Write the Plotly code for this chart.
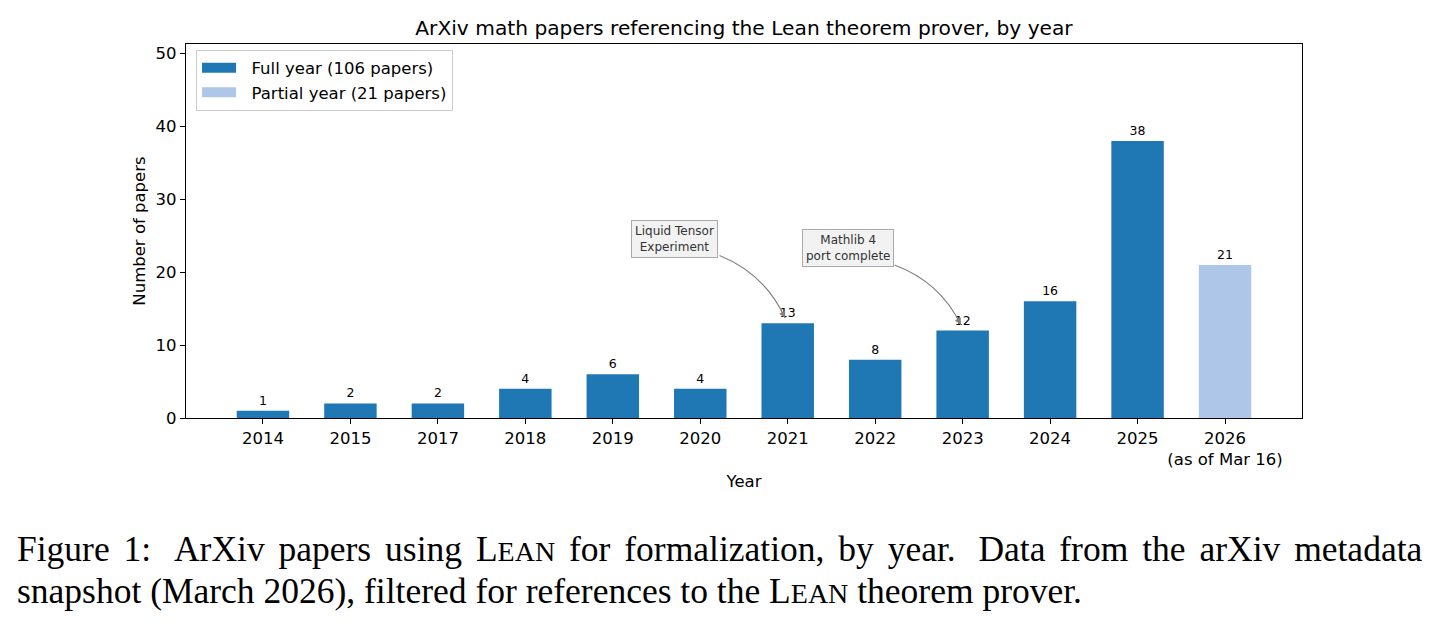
import plotly.graph_objects as go

# ---------------- data ----------------
years = ["2014", "2015", "2017", "2018", "2019", "2020", "2021", "2022", "2023", "2024", "2025", "2026"]
tick_labels = ["2014", "2015", "2017", "2018", "2019", "2020", "2021", "2022", "2023", "2024", "2025",
               "2026<br>(as of Mar 16)"]
papers = [1, 2, 2, 4, 6, 4, 13, 8, 12, 16, 38, 21]
partial_flags = [False] * 11 + [True]

events = [
    {"year": "2021", "label": "Liquid Tensor<br>Experiment"},
    {"year": "2023", "label": "Mathlib 4<br>port complete"},
]

full_total = sum(p for p, f in zip(papers, partial_flags) if not f)
part_total = sum(p for p, f in zip(papers, partial_flags) if f)

# ---------------- layout constants ----------------
W, H = 1435, 624
ML, MR, MT, MB = 186, 133, 44, 206
PW, PH = W - ML - MR, H - MT - MB
XR = [-0.88, 11.88]
YR = [0, 51.3]
pxx = PW / (XR[1] - XR[0])
pxy = PH / (YR[1] - YR[0])
FULL_C, PART_C = "#1f77b4", "#aec7e8"

idx = list(range(len(years)))
full_x = [i for i, f in zip(idx, partial_flags) if not f]
full_y = [p for p, f in zip(papers, partial_flags) if not f]
part_x = [i for i, f in zip(idx, partial_flags) if f]
part_y = [p for p, f in zip(papers, partial_flags) if f]

fig = go.Figure()
for xs, ys, col in [(full_x, full_y, FULL_C), (part_x, part_y, PART_C)]:
    fig.add_trace(go.Bar(
        x=xs, y=ys, width=0.6, marker=dict(color=col, line=dict(width=0)),
        showlegend=False,
        text=[str(v) for v in ys], textposition="outside",
        textfont=dict(size=12.5, color="#000000", family="DejaVu Sans"), cliponaxis=False,
    ))
# legend entries drawn as wide patches
for name, col in [(f"Full year ({full_total} papers)", FULL_C),
                  (f"Partial year ({part_total} papers)", PART_C)]:
    fig.add_trace(go.Scatter(x=[None], y=[None], mode="lines", name="\u00a0\u00a0" + name,
                             line=dict(color=col, width=11)))

# ---------------- event annotations with curved arrows ----------------
box_off = [(-1.29, 11.5), (-1.31, 11.3)]
start_off = [(-0.78, 9.3), (-0.78, 9.0)]
tip_off = [(-0.03, 0.7), (-0.02, 0.8)]

def to_px(x, y):
    return ML + (x - XR[0]) * pxx, MT + (YR[1] - y) * pxy

def to_data(px, py):
    return XR[0] + (px - ML) / pxx, YR[1] - (py - MT) / pxy

shapes = []
annos = []
for ev, bo, so, to in zip(events, box_off, start_off, tip_off):
    i = years.index(ev["year"])
    v = papers[i]
    bx, by = i + bo[0], v + bo[1]
    sx, sy = i + so[0], v + so[1]
    tx, ty = i + to[0], v + to[1]
    annos.append(dict(x=bx, y=by, xref="x", yref="y", text=ev["label"], showarrow=False,
                      font=dict(size=12, color="#333333", family="DejaVu Sans"),
                      bgcolor="#f2f2f2", bordercolor="#aaaaaa", borderwidth=1, borderpad=3))
    p0 = to_px(sx, sy)
    p2 = to_px(tx, ty)
    mx, my = (p0[0] + p2[0]) / 2, (p0[1] + p2[1]) / 2
    dx, dy = p2[0] - p0[0], p2[1] - p0[1]
    rad = 0.2
    c = (mx + rad * dy, my - rad * dx)
    cd = to_data(*c)
    shapes.append(dict(type="path", xref="x", yref="y",
                       path=f"M {sx},{sy} Q {cd[0]},{cd[1]} {tx},{ty}",
                       line=dict(color="#808080", width=1.1)))
    t = 0.88
    qx = (1 - t) ** 2 * p0[0] + 2 * (1 - t) * t * c[0] + t ** 2 * p2[0]
    qy = (1 - t) ** 2 * p0[1] + 2 * (1 - t) * t * c[1] + t ** 2 * p2[1]
    qd = to_data(qx, qy)
    annos.append(dict(x=tx, y=ty, xref="x", yref="y", ax=qd[0], ay=qd[1], axref="x", ayref="y",
                      text="", showarrow=True, arrowhead=2, arrowsize=1.2, arrowwidth=1.1,
                      arrowcolor="#808080"))

# ---------------- caption ----------------
sc = '<span style="font-size:28px">EAN</span>'
sp = ' <span style="font-size:20px"> </span>'   # slightly widened space to justify line 1
words1 = ["Figure", "1:", "", "ArXiv", "papers", "using", f"L{sc}", "for", "formalization,", "by",
          "year.", "", "Data", "from", "the", "arXiv", "metadata"]
cap1 = ""
for k, w in enumerate(words1):
    if k > 0:
        cap1 += sp if w else " "
    cap1 += w
cap2 = f"snapshot (March 2026), filtered for references to the L{sc} theorem prover."
for txt, ypx in [(cap1, 549), (cap2, 591)]:
    annos.append(dict(x=(15 - ML) / PW, y=(MT + PH - ypx) / PH, xref="paper", yref="paper",
                      xanchor="left", yanchor="middle", text=txt, showarrow=False,
                      font=dict(size=35.5, color="#000000", family="Liberation Serif")))

axis_common = dict(showline=True, linecolor="#000000", linewidth=1.2, mirror=True,
                   ticks="outside", ticklen=5, tickwidth=1.1, tickcolor="#000000",
                   showgrid=False, zeroline=False,
                   tickfont=dict(size=16.5, color="#000000", family="DejaVu Sans"))

fig.update_layout(
    width=W, height=H,
    margin=dict(l=ML, r=MR, t=MT, b=MB),
    paper_bgcolor="white", plot_bgcolor="white",
    font=dict(family="DejaVu Sans", color="#000000"),
    title=dict(text="ArXiv math papers referencing the Lean theorem prover, by year",
               x=(ML + PW / 2) / W, xanchor="center", y=1 - 28 / H, yanchor="middle",
               font=dict(size=20.2, color="#000000", family="DejaVu Sans")),
    xaxis=dict(range=XR, tickvals=idx, ticktext=tick_labels,
               title=dict(text="Year", font=dict(size=16.5, color="#000000"), standoff=7),
               **axis_common),
    yaxis=dict(range=YR, tickvals=[0, 10, 20, 30, 40, 50],
               title=dict(text="Number of papers", font=dict(size=16.5, color="#000000"), standoff=5),
               **axis_common),
    legend=dict(x=0.009, y=0.985, xanchor="left", yanchor="top",
                bgcolor="rgba(255,255,255,0.9)", bordercolor="#cccccc", borderwidth=1,
                font=dict(size=16.5, color="#000000", family="DejaVu Sans"),
                itemwidth=34),
    showlegend=True,
    shapes=shapes,
    annotations=annos,
)

fig.write_html("out.html")
